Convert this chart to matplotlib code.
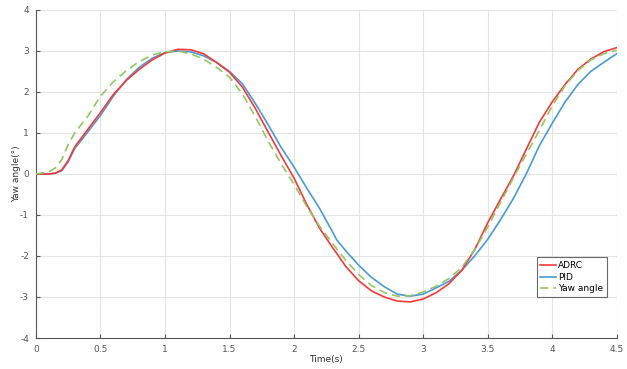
import matplotlib
matplotlib.use("Agg")
import matplotlib.pyplot as plt
from matplotlib.ticker import FuncFormatter

# ---- palette (MATLAB-ish) ----
RED = "#f23a3a"
BLUE = "#4a9ad4"
GREEN = "#93c565"
AXIS = "#555555"
GRID = "#e4e4e4"

# time samples (s)
t = [0.0, 0.1, 0.15, 0.2, 0.25, 0.3, 0.4, 0.5, 0.6, 0.7, 0.8, 0.9,
     1.0, 1.1, 1.2, 1.3, 1.4, 1.5, 1.6, 1.7, 1.8, 1.9,
     2.0, 2.1, 2.2, 2.3, 2.33, 2.4, 2.5, 2.6, 2.7, 2.8, 2.9,
     3.0, 3.1, 3.2, 3.3, 3.4, 3.5, 3.6, 3.7, 3.8, 3.9,
     4.0, 4.1, 4.2, 4.3, 4.4, 4.5]

adrc = [0.0, 0.0, 0.02, 0.1, 0.33, 0.66, 1.08, 1.5, 1.94, 2.28, 2.55, 2.78,
        2.95, 3.04, 3.03, 2.93, 2.72, 2.48, 2.12, 1.6, 1.02, 0.45,
        -0.1, -0.75, -1.33, -1.8, -1.93, -2.25, -2.6, -2.85, -3.0, -3.1, -3.12,
        -3.05, -2.9, -2.68, -2.35, -1.85, -1.2, -0.62, -0.05, 0.6, 1.25,
        1.75, 2.18, 2.55, 2.8, 2.98, 3.08]

pid = [0.0, 0.0, 0.02, 0.08, 0.3, 0.62, 1.02, 1.43, 1.9, 2.3, 2.6, 2.82,
       2.96, 3.0, 2.98, 2.88, 2.72, 2.5, 2.2, 1.72, 1.2, 0.65,
       0.17, -0.35, -0.85, -1.42, -1.6, -1.87, -2.22, -2.52, -2.75, -2.93, -2.98,
       -2.93, -2.78, -2.62, -2.35, -2.0, -1.6, -1.12, -0.6, 0.0, 0.68,
       1.23, 1.75, 2.18, 2.5, 2.72, 2.93]

yaw = [0.0, 0.05, 0.15, 0.35, 0.72, 1.0, 1.4, 1.9, 2.25, 2.52, 2.74, 2.9,
       2.98, 3.0, 2.93, 2.8, 2.6, 2.36, 1.95, 1.4, 0.8, 0.25,
       -0.25, -0.8, -1.28, -1.7, -1.82, -2.1, -2.45, -2.72, -2.89, -2.98, -2.97,
       -2.88, -2.74, -2.55, -2.28, -1.85, -1.3, -0.7, -0.1, 0.48, 1.05,
       1.65, 2.15, 2.52, 2.78, 2.93, 3.02]

xticks = [0, 0.5, 1, 1.5, 2, 2.5, 3, 3.5, 4, 4.5]
yticks = [-4, -3, -2, -1, 0, 1, 2, 3, 4]

plt.rcParams.update({
    "font.family": "DejaVu Sans",
    "axes.edgecolor": AXIS,
    "xtick.color": AXIS,
    "ytick.color": AXIS,
})

fig = plt.figure(figsize=(6.27, 3.69), dpi=100)
ax = fig.add_axes([0.0574, 0.084, 0.9259, 0.889])

ax.plot(t, adrc, color=RED, linewidth=1.2, label="ADRC", zorder=4)
ax.plot(t, pid, color=BLUE, linewidth=1.2, label="PID", zorder=3)
ax.plot(t, yaw, color=GREEN, linewidth=1.2, linestyle=(0, (5, 3)),
        label="Yaw angle", zorder=5)

ax.set_xlim(0, 4.5)
ax.set_ylim(-4, 4)
ax.set_xticks(xticks)
ax.set_yticks(yticks)
ax.xaxis.set_major_formatter(FuncFormatter(lambda v, p: f"{v:g}"))
ax.yaxis.set_major_formatter(FuncFormatter(lambda v, p: f"{v:g}"))
ax.tick_params(direction="in", length=3, width=0.8, labelsize=6.5, pad=5)
ax.spines[["top", "right"]].set_visible(False)
ax.spines[["left", "bottom"]].set_linewidth(0.8)
ax.grid(color=GRID, linewidth=0.8, zorder=0)

ax.set_xlabel("Time(s)", fontsize=6.5, color="#333333", labelpad=1)
ax.set_ylabel("Yaw angle(°)", fontsize=6.5, color="#333333", labelpad=-1)

leg = ax.legend(loc="lower right", bbox_to_anchor=(0.9836, 0.125), fontsize=6.5,
                frameon=True, fancybox=False, handlelength=1.7, borderaxespad=0,
                borderpad=0.4, labelspacing=0.3, handletextpad=0.3)
leg.get_frame().set_edgecolor("#444444")
leg.get_frame().set_linewidth(0.8)

fig.savefig("out.png", dpi=100)
